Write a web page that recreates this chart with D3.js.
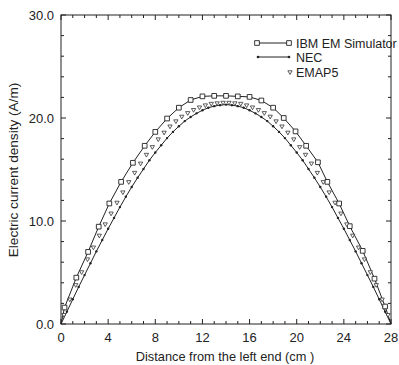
<!DOCTYPE html>
<html>
<head>
<meta charset="utf-8">
<script src="https://cdn.jsdelivr.net/npm/d3@7"></script>
<style>
  body { margin: 0; background: #fff; }
  svg { display: block; font-family: "Liberation Sans", Arial, sans-serif; }
</style>
</head>
<body>
<svg id="chart"></svg>
<script>
const width = 399;
const height = 365;
const margins = { top: 15, right: 8, bottom: 41, left: 61 };

// IBM EM Simulator (squares + line)
const ibmX = [0, 0.3, 1.3, 2.3, 3.2, 4.1, 5.1, 6.1, 7.1, 8.0, 9.0, 10.0, 11.0, 12.0, 13.0, 14.0, 15.0, 16.0, 17.0, 18.0, 18.9, 19.9, 20.8, 21.8, 22.6, 23.6, 24.5, 25.6, 26.6, 27.5, 28];
const ibmY = [0, 1.6, 4.5, 7.0, 9.45, 11.7, 13.8, 15.65, 17.3, 18.65, 19.95, 21.0, 21.75, 22.1, 22.15, 22.15, 22.1, 22.05, 21.7, 21.0, 20.0, 18.7, 17.3, 15.7, 13.8, 11.7, 9.5, 7.1, 4.4, 1.7, 0];

// NEC (dots + line)
const necX = d3.range(0, 28.01, 0.5);
const necY = [0, 1.2, 2.4, 3.6, 4.75, 5.9, 7.05, 8.15, 9.25, 10.3, 11.35, 12.35, 13.3, 14.2, 15.05, 15.9, 16.65, 17.35, 18.05, 18.65, 19.2, 19.7, 20.1, 20.45, 20.75, 21.0, 21.15, 21.25, 21.3,
  21.25, 21.15, 21.0, 20.75, 20.45, 20.1, 19.7, 19.2, 18.65, 18.05, 17.35, 16.65, 15.9, 15.05, 14.2, 13.3, 12.35, 11.35, 10.3, 9.25, 8.15, 7.05, 5.9, 4.75, 3.6, 2.4, 1.2, 0];

// EMAP5 (triangles only)
const emapX = d3.range(0.25, 28, 0.5);
const emapY = [0.9, 2.4, 3.8, 5.05, 6.3, 7.45, 8.6, 9.7, 10.75, 11.8, 12.8, 13.8, 14.7, 15.6, 16.45, 17.2, 17.95, 18.6, 19.2, 19.7, 20.15, 20.5, 20.8, 21.05, 21.25, 21.4, 21.45, 21.5,
  21.5, 21.45, 21.4, 21.25, 21.05, 20.8, 20.5, 20.15, 19.7, 19.2, 18.6, 17.95, 17.2, 16.45, 15.6, 14.7, 13.8, 12.8, 11.8, 10.75, 9.7, 8.6, 7.45, 6.3, 5.05, 3.8, 2.4, 0.9];

const xTicks = [0, 4, 8, 12, 16, 20, 24, 28];
const yTicks = [0, 10, 20, 30];
const legendNames = ["IBM EM Simulator", "NEC", "EMAP5"];

const x = d3.scaleLinear().domain([0, 28]).range([margins.left, width - margins.right]);
const y = d3.scaleLinear().domain([0, 30]).range([height - margins.bottom, margins.top]);

const svg = d3.select("#chart").attr("width", width).attr("height", height);

const ibm = ibmX.map((d, i) => ({ x: d, y: ibmY[i] }));
const nec = necX.map((d, i) => ({ x: d, y: necY[i] }));
const emap = emapX.map((d, i) => ({ x: d, y: emapY[i] }));

// axes, ticks inward on all four sides
const x0 = x(0), x1 = x(28), y0 = y(0), y1 = y(30);
svg.append("rect")
  .attr("x", x0).attr("y", y1).attr("width", x1 - x0).attr("height", y0 - y1)
  .attr("fill", "none").attr("stroke", "#222").attr("stroke-width", 1);

const axes = svg.append("g").attr("stroke", "#222").attr("stroke-width", 1);
d3.range(0, 28.01, 1).forEach(v => {
  const len = v % 4 === 0 ? 5 : 3;
  axes.append("line").attr("x1", x(v)).attr("x2", x(v)).attr("y1", y0).attr("y2", y0 - len);
  axes.append("line").attr("x1", x(v)).attr("x2", x(v)).attr("y1", y1).attr("y2", y1 + len);
});
d3.range(0, 30.01, 2).forEach(v => {
  const len = v % 10 === 0 ? 5 : 3;
  axes.append("line").attr("y1", y(v)).attr("y2", y(v)).attr("x1", x0).attr("x2", x0 + len);
  axes.append("line").attr("y1", y(v)).attr("y2", y(v)).attr("x1", x1).attr("x2", x1 - len);
});

svg.append("g").selectAll("text").data(xTicks).join("text")
  .attr("x", d => x(d)).attr("y", y0 + 18)
  .attr("text-anchor", "middle").attr("font-size", 13).attr("fill", "#222")
  .text(d => d);

svg.append("g").selectAll("text").data(yTicks).join("text")
  .attr("x", x0 - 7).attr("y", d => y(d) + 5)
  .attr("text-anchor", "end").attr("font-size", 13).attr("fill", "#222")
  .text(d => d3.format(".1f")(d));

svg.append("text")
  .attr("x", (x0 + x1) / 2 - 1).attr("y", 361)
  .attr("text-anchor", "middle").attr("font-size", 12.8).attr("fill", "#222")
  .text("Distance from the left end (cm )");

svg.append("text")
  .attr("transform", `translate(18,${170}) rotate(-90)`)
  .attr("text-anchor", "middle").attr("font-size", 13.6).attr("fill", "#222")
  .text("Electric current density (A/m)");

// curves
const line = d3.line().x(d => x(d.x)).y(d => y(d.y));

svg.append("path").datum(ibm).attr("d", line)
  .attr("fill", "none").attr("stroke", "#222").attr("stroke-width", 1);
svg.append("path").datum(nec).attr("d", line)
  .attr("fill", "none").attr("stroke", "#222").attr("stroke-width", 1);

const square = d3.symbol().type(d3.symbolSquare).size(22);
const triangle = d3.symbol().type(d3.symbolTriangle).size(8);

svg.append("g").selectAll("path").data(ibm.filter(d => d.y > 0)).join("path")
  .attr("transform", d => `translate(${x(d.x)},${y(d.y)})`)
  .attr("d", square).attr("fill", "#fff").attr("stroke", "#222").attr("stroke-width", 0.9);

svg.append("g").selectAll("path").data(emap).join("path")
  .attr("transform", d => `translate(${x(d.x)},${y(d.y)}) rotate(180)`)
  .attr("d", triangle).attr("fill", "#fff").attr("stroke", "#333").attr("stroke-width", 0.8);

svg.append("g").selectAll("circle").data(nec.filter(d => d.y > 0)).join("circle")
  .attr("cx", d => x(d.x)).attr("cy", d => y(d.y)).attr("r", 1.2)
  .attr("fill", "#222");

// legend
const lg = svg.append("g");
const ly = [43, 57, 72];
lg.append("line").attr("x1", 257).attr("x2", 289).attr("y1", ly[0]).attr("y2", ly[0]).attr("stroke", "#222");
lg.append("path").attr("transform", `translate(257,${ly[0]})`).attr("d", square).attr("fill", "#fff").attr("stroke", "#222").attr("stroke-width", 0.9);
lg.append("path").attr("transform", `translate(289,${ly[0]})`).attr("d", square).attr("fill", "#fff").attr("stroke", "#222").attr("stroke-width", 0.9);
lg.append("line").attr("x1", 258).attr("x2", 289).attr("y1", ly[1]).attr("y2", ly[1]).attr("stroke", "#222");
lg.append("circle").attr("cx", 258).attr("cy", ly[1]).attr("r", 1.3).attr("fill", "#222");
lg.append("circle").attr("cx", 289).attr("cy", ly[1]).attr("r", 1.3).attr("fill", "#222");
lg.append("path").attr("transform", `translate(290,${ly[2]}) rotate(180)`).attr("d", triangle).attr("fill", "#fff").attr("stroke", "#333").attr("stroke-width", 0.8);

lg.selectAll("text").data(legendNames).join("text")
  .attr("x", 296).attr("y", (d, i) => ly[i] + 4.5)
  .attr("font-size", 12.5).attr("fill", "#222")
  .text(d => d);
</script>
</body>
</html>
